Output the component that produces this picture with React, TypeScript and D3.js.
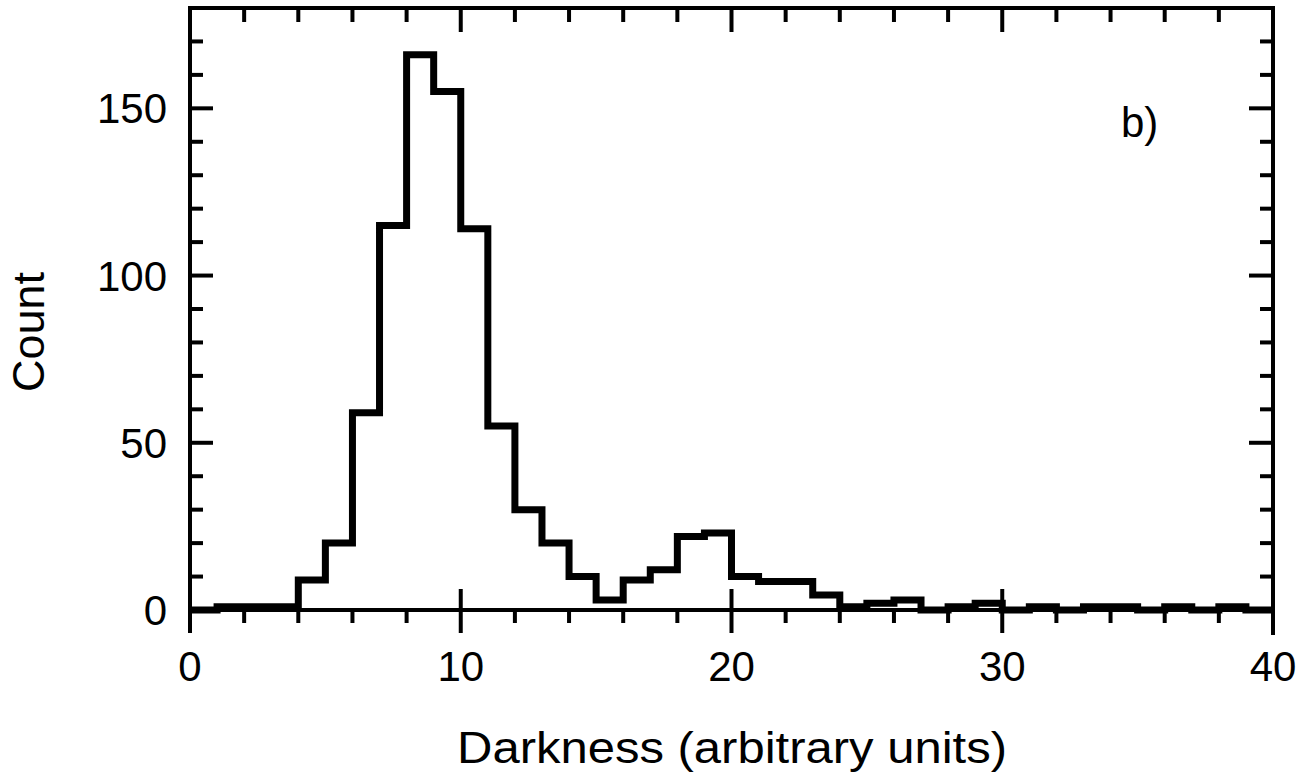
import React from "react";
import * as d3 from "d3";

// Histogram bin counts, bins of width 1 starting at 0
const binStarts = d3.range(0, 40);
const counts = [
  0, 1, 1, 1, 9, 20, 59, 115, 166, 155,
  114, 55, 30, 20, 10, 3, 9, 12, 22, 23,
  10, 8.5, 8.5, 4.5, 1, 2, 3, 0, 1, 2,
  0, 1, 0, 1, 1, 0, 1, 0, 1, 0,
];
const xTickLabels = [0, 10, 20, 30, 40];
const yTickLabels = [0, 50, 100, 150];
const xTitle = "Darkness (arbitrary units)";
const yTitle = "Count";
const panelLabel = "b)";

const W = 1308;
const H = 782;
const left = 190;
const right = 1273;
const top = 8;
const bottom = 610;

export default function App() {
  const x = d3.scaleLinear().domain([0, 40]).range([left, right]);
  const y = d3.scaleLinear().domain([0, 180]).range([bottom, top]);

  const pts: [number, number][] = [];
  binStarts.forEach((b, i) => {
    pts.push([b, counts[i]]);
  });
  pts.push([40, counts[counts.length - 1]]);
  const line = d3
    .line<[number, number]>()
    .x((d) => x(d[0]))
    .y((d) => y(d[1]))
    .curve(d3.curveStepAfter);
  const path = line(pts) || "";

  const xMinor = d3.range(0, 41, 2).filter((v) => v % 10 !== 0);
  const yMinor = d3.range(10, 180, 10).filter((v) => v % 50 !== 0);
  const font = "Liberation Sans, Arial, sans-serif";
  const sw = 4;

  return (
    <svg
      width={W}
      height={H}
      style={{ position: "absolute", left: 0, top: 0, background: "#fff" }}
    >
      <rect x={0} y={0} width={W} height={H} fill="#fff" />
      {/* histogram */}
      <path d={path} fill="none" stroke="#000" strokeWidth={7} strokeLinejoin="miter" />
      {/* frame */}
      <rect
        x={left}
        y={top}
        width={right - left}
        height={bottom - top}
        fill="none"
        stroke="#000"
        strokeWidth={sw}
      />
      {/* left/right axis extension below */}
      <line x1={x(0)} x2={x(0)} y1={bottom} y2={bottom + 23} stroke="#000" strokeWidth={sw} />
      <line x1={x(40)} x2={x(40)} y1={bottom} y2={bottom + 25} stroke="#000" strokeWidth={sw} />
      {/* bottom minor ticks (outward) */}
      {xMinor.map((v) => (
        <line key={"bm" + v} x1={x(v)} x2={x(v)} y1={bottom} y2={bottom + 13} stroke="#000" strokeWidth={sw} />
      ))}
      {/* bottom major ticks (crossing) */}
      {[10, 20, 30].map((v) => (
        <line key={"bM" + v} x1={x(v)} x2={x(v)} y1={bottom - 21} y2={bottom + 23} stroke="#000" strokeWidth={sw} />
      ))}
      {/* top ticks (inward) */}
      {xMinor.map((v) => (
        <line key={"tm" + v} x1={x(v)} x2={x(v)} y1={top} y2={top + 14} stroke="#000" strokeWidth={sw} />
      ))}
      {[10, 20, 30].map((v) => (
        <line key={"tM" + v} x1={x(v)} x2={x(v)} y1={top} y2={top + 24} stroke="#000" strokeWidth={sw} />
      ))}
      {/* left ticks (inward) */}
      {yMinor.map((v) => (
        <line key={"lm" + v} x1={left} x2={left + 13} y1={y(v)} y2={y(v)} stroke="#000" strokeWidth={sw} />
      ))}
      {[50, 100, 150].map((v) => (
        <line key={"lM" + v} x1={left} x2={left + 23} y1={y(v)} y2={y(v)} stroke="#000" strokeWidth={sw} />
      ))}
      {/* right ticks (inward) */}
      {yMinor.map((v) => (
        <line key={"rm" + v} x1={right} x2={right - 13} y1={y(v)} y2={y(v)} stroke="#000" strokeWidth={sw} />
      ))}
      {[50, 100, 150].map((v) => (
        <line key={"rM" + v} x1={right} x2={right - 24} y1={y(v)} y2={y(v)} stroke="#000" strokeWidth={sw} />
      ))}
      {/* x tick labels */}
      {xTickLabels.map((v) => (
        <text key={"xl" + v} x={x(v)} y={681} textAnchor="middle" fontFamily={font} fontSize={42} fill="#000">
          {v}
        </text>
      ))}
      {/* y tick labels */}
      {yTickLabels.map((v) => (
        <text key={"yl" + v} x={167} y={y(v) + 15} textAnchor="end" fontFamily={font} fontSize={42} fill="#000">
          {v}
        </text>
      ))}
      <text
        x={732}
        y={763}
        textAnchor="middle"
        fontFamily={font}
        fontSize={45}
        textLength={550}
        lengthAdjust="spacingAndGlyphs"
        fill="#000"
      >
        {xTitle}
      </text>
      <text
        transform={`translate(44, 332) rotate(-90)`}
        textAnchor="middle"
        fontFamily={font}
        fontSize={45}
        textLength={120}
        lengthAdjust="spacingAndGlyphs"
        fill="#000"
      >
        {yTitle}
      </text>
      <text x={1121} y={137} fontFamily={font} fontSize={42} fill="#000">
        {panelLabel}
      </text>
    </svg>
  );
}
